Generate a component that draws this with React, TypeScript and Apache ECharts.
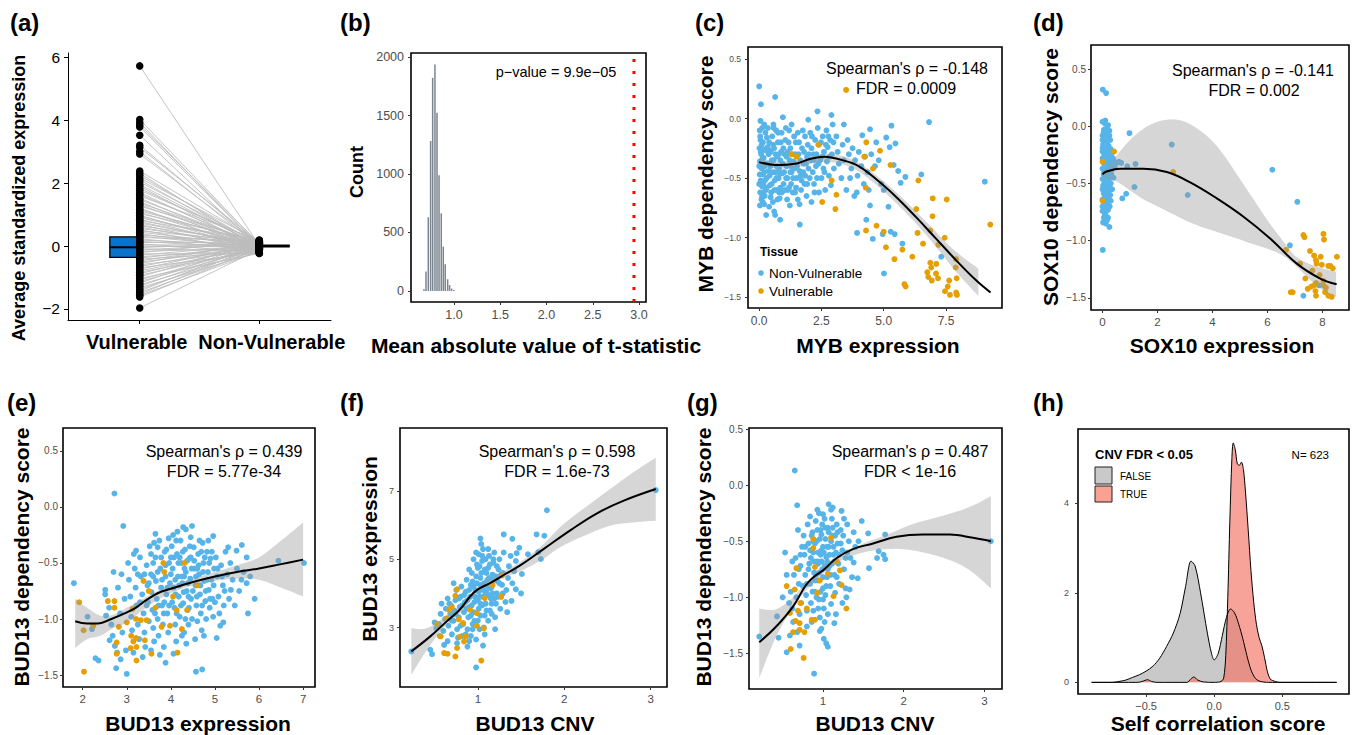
import React, { useEffect, useRef } from "react";
import * as echarts from "echarts";

const FONT = '"Liberation Sans", Arial, Helvetica, sans-serif';
const BLUE = "#56B4E9";
const ORANGE = "#E69F00";
const TICK_GRAY = "#4d4d4d";

// ---------- (a) ----------
const groupCategories = ["Vulnerable", "Non-Vulnerable"];
const vulnerable = [
  5.72, 4.02, 3.92, 3.84, 3.78, 3.52, 3.2, 3.13, 3.0, 2.92,
  2.38, 2.31, 2.24, 2.16, 2.1, 2.03, 1.95, 1.9, 1.83, 1.77,
  1.7, 1.64, 1.59, 1.52, 1.47, 1.41, 1.36, 1.31, 1.27, 1.21,
  1.16, 1.12, 1.07, 1.03, 0.98, 0.94, 0.9, 0.85, 0.81, 0.77,
  0.73, 0.69, 0.64, 0.6, 0.56, 0.52, 0.48, 0.44, 0.39, 0.35,
  0.31, 0.27, 0.23, 0.19, 0.15, 0.11, 0.07, 0.03, -0.01, -0.05,
  -0.09, -0.13, -0.17, -0.21, -0.25, -0.29, -0.34, -0.38, -0.42, -0.47,
  -0.51, -0.56, -0.6, -0.65, -0.69, -0.74, -0.79, -0.83, -0.88, -0.93,
  -0.98, -1.03, -1.08, -1.13, -1.18, -1.23, -1.28, -1.33, -1.38, -1.43,
  -1.48, -1.53, -1.57, -1.62, -1.97,
];
const nonVulnerable = [
  0.02, 0.05, -0.03, 0.08, 0.01, -0.06, 0.04, 0.11, -0.02, 0.07,
  0.13, -0.08, 0.03, 0.16, -0.04, 0.09, 0.0, -0.12, 0.06, 0.14,
  -0.07, 0.02, 0.18, -0.1, 0.05, -0.15, 0.1, -0.01, 0.12, -0.19,
  0.04, 0.08, -0.05, 0.15, -0.13, 0.01, 0.07, -0.09, 0.19, -0.02,
  0.03, -0.17, 0.11, -0.06, 0.06, -0.22, 0.13, 0.0, -0.11, 0.09,
  -0.04, 0.17, -0.14, 0.02, -0.08, 0.12, -0.2, 0.05, -0.03, 0.1,
  -0.16, 0.08, -0.07, 0.15, -0.24, 0.04, -0.1, 0.01, -0.18, 0.07,
  -0.05, 0.14, -0.12, 0.03, -0.21, 0.09, -0.02, -0.15, 0.06, -0.09,
  0.11, -0.23, 0.0, -0.06, 0.13, -0.13, 0.05, -0.19, -0.04, 0.08,
  -0.11, 0.02, -0.17, -0.07, -0.1,
];
const boxStats = [
  { q1: -0.36, med: -0.04, q3: 0.29 },
  { q1: -0.03, med: 0.0, q3: 0.03 },
];
const aYTicks = [-2, 0, 2, 4, 6];

// ---------- (b) ----------
const tstatBins = [0.676, 0.698, 0.723, 0.748, 0.77, 0.795, 0.817, 0.839, 0.863, 0.885, 0.906, 0.932, 0.953, 0.975, 1.0];
const tstatCounts = [15, 165, 630, 1282, 1823, 1937, 1524, 990, 664, 379, 228, 100, 50, 20, 8];
const observedT = 2.945;
const pValueLabel = "p\u2212value = 9.9e\u221205";
const bXTicks = [1, 1.5, 2, 2.5, 3];
const bYTicks = [0, 500, 1000, 1500, 2000];

// ---------- (c) MYB ----------
const cBlue = [
  [0.02,-0.1],[0.05,-0.18],[0.01,-0.25],[0.08,-0.3],[0.03,-0.36],[0.1,-0.42],[0.02,-0.47],[0.06,-0.52],[0.12,-0.57],[0.04,-0.62],
  [0.09,-0.68],[0.03,-0.73],[0.15,-0.2],[0.18,-0.33],[0.2,-0.45],[0.16,-0.55],[0.22,-0.65],[0.25,-0.12],[0.28,-0.27],[0.26,-0.38],
  [0.3,-0.5],[0.27,-0.6],[0.0,-0.4],[0.14,-0.7],[0.0,0.27],[0.07,0.12],[0.05,-0.02],[0.12,-0.08],[0.0,-0.55],[0.2,-0.05],
  [0.35,-0.08],[0.4,-0.2],[0.38,-0.3],[0.45,-0.4],[0.42,-0.48],[0.5,-0.55],[0.48,-0.62],[0.55,-0.7],[0.52,-0.15],[0.6,-0.25],
  [0.58,-0.35],[0.65,-0.45],[0.62,-0.52],[0.7,-0.6],[0.68,-0.1],[0.75,-0.2],[0.72,-0.32],[0.8,-0.42],[0.78,-0.5],[0.85,-0.58],
  [0.82,-0.67],[0.9,-0.12],[0.88,-0.28],[0.95,-0.38],[0.92,-0.46],[0.98,-0.55],[0.64,0.18],[0.95,0.01],[0.84,-0.85],[0.28,-0.81],
  [0.64,-0.81],[0.4,-0.74],[0.6,-0.78],[0.33,-0.38],[0.47,-0.27],[0.7,-0.4],[0.57,-0.05],[0.85,-0.35],
  [1.05,-0.18],[1.02,-0.3],[1.1,-0.4],[1.08,-0.5],[1.15,-0.6],[1.12,-0.68],[1.2,-0.1],[1.25,-0.25],[1.22,-0.35],[1.3,-0.45],
  [1.28,-0.55],[1.35,-0.62],[1.4,-0.15],[1.45,-0.3],[1.42,-0.42],[1.5,-0.5],[1.48,-0.58],[1.55,-0.68],[1.6,-0.2],[1.65,-0.35],
  [1.62,-0.44],[1.7,-0.52],[1.68,-0.6],[1.75,-0.1],[1.8,-0.28],[1.78,-0.38],[1.85,-0.48],[1.82,-0.55],[1.9,-0.65],[1.95,-0.22],
  [1.92,-0.32],[1.98,-0.42],[1.97,-0.01],[1.23,-0.73],[1.62,-0.72],[1.63,-0.89],[1.3,-0.05],[1.15,-0.28],[1.38,-0.36],[1.55,-0.12],
  [2.05,-0.12],[2.1,-0.25],[2.08,-0.35],[2.15,-0.45],[2.2,-0.55],[2.25,-0.18],[2.3,-0.3],[2.28,-0.4],[2.35,-0.08],[2.34,0.06],
  [2.4,-0.22],[2.45,-0.35],[2.5,-0.5],[2.55,-0.15],[2.6,-0.28],[2.58,-0.42],[2.65,-0.6],[2.7,-0.1],[2.75,-0.24],[2.72,-0.36],
  [2.8,-0.48],[2.85,-0.18],[2.9,0.03],[2.95,-0.05],[2.92,-0.3],[3.0,-0.42],[2.88,-0.56],[2.1,-0.7],[2.4,-0.62],[2.2,-0.35],
  [3.1,-0.15],[3.15,-0.28],[3.2,-0.38],[3.3,-0.5],[3.35,-0.22],[3.4,-0.35],[3.5,-0.6],[3.55,-0.18],[3.6,-0.3],[3.7,-0.42],
  [3.75,-0.25],[3.85,-0.35],[3.92,-0.62],[3.82,-0.65],[3.95,-0.48],[4.0,-0.28],[4.1,-0.4],[4.14,-0.14],[4.2,-0.55],[4.25,-0.32],
  [4.3,-0.85],[4.35,-0.45],[4.45,-0.09],[4.45,-0.73],[4.5,-0.3],[4.4,-0.6],[3.93,-0.96],[3.4,-0.05],[3.65,-0.5],
  [4.56,-1.01],[4.65,-0.4],[4.8,-0.35],[4.9,-0.55],[4.96,-0.97],[5.01,-1.3],[5.1,-0.16],[5.19,-0.74],[5.24,-0.24],[5.28,-0.95],
  [5.31,-0.06],[5.4,-0.39],[5.44,-0.97],[5.47,-0.21],[5.58,-0.44],[5.68,-0.54],[5.75,-1.05],[5.87,-0.49],[6.51,-0.47],[6.82,-0.03],
  [7.31,-1.16],[9.06,-0.53],[5.0,-0.6],[4.7,-0.2],
  [0.04,-0.15],[0.1,-0.22],[0.06,-0.28],[0.13,-0.34],[0.07,-0.4],[0.15,-0.47],[0.09,-0.54],[0.17,-0.62],[0.11,-0.66],[0.2,-0.72],
  [0.23,-0.52],[0.19,-0.26],[0.22,-0.4],[0.31,-0.16],[0.34,-0.24],[0.37,-0.44],[0.43,-0.56],[0.46,-0.66],[0.5,-0.35],[0.53,-0.45],
  [0.56,-0.22],[0.61,-0.6],[0.66,-0.3],[0.69,-0.5],[0.73,-0.68],[0.76,-0.12],[0.79,-0.3],[0.83,-0.46],[0.87,-0.2],[0.91,-0.62],
  [0.97,-0.25],[1.0,-0.45],[1.04,-0.6],[1.07,-0.08],[1.13,-0.5],[1.18,-0.2],[1.2,-0.58],[1.27,-0.4],[1.33,-0.3],[1.36,-0.5],
  [1.44,-0.62],[1.47,-0.2],[1.52,-0.4],[1.58,-0.3],[1.66,-0.48],[1.72,-0.25],[1.77,-0.45],[1.84,-0.15],[1.88,-0.38],[1.93,-0.55],
  [2.0,-0.3],[2.03,-0.5],[2.12,-0.15],[2.18,-0.3],[2.22,-0.62],[2.32,-0.5],[2.38,-0.38],[2.48,-0.2],[2.53,-0.32],[2.62,-0.45],
  [2.68,-0.22],[2.78,-0.15],[2.82,-0.32],[2.98,-0.2],[0.3,-0.58],[0.45,-0.28],[0.58,-0.08],[0.8,-0.62],[1.1,-0.32],[1.25,-0.45],
];
const cOrange = [
  [3.49,0.24],[2.37,-0.22],[1.3,-0.3],[1.5,-0.32],[4.3,-0.2],[4.85,-0.27],[4.22,-0.32],[5.27,-0.39],[4.57,-0.42],[2.91,-0.52],
  [3.1,-0.64],[4.28,-0.58],[2.53,-0.7],[3.06,-0.76],[6.39,-0.52],[6.97,-0.67],[7.53,-0.68],[6.31,-0.76],[6.96,-0.82],[4.71,-0.9],
  [4.29,-0.94],[5.0,-0.95],[6.36,-0.96],[6.87,-0.94],[7.45,-1.0],[5.09,-1.08],[5.75,-1.1],[7.19,-1.06],[6.58,-1.05],[5.43,-1.18],
  [6.15,-1.16],[6.87,-1.21],[7.11,-1.22],[6.91,-1.25],[7.91,-1.18],[7.89,-1.25],[6.75,-1.29],[6.79,-1.33],[7.18,-1.34],[6.93,-1.36],
  [7.63,-1.36],[7.93,-1.34],[5.88,-1.41],[5.83,-1.39],[7.57,-1.41],[7.46,-1.45],[7.66,-1.48],[7.91,-1.46],[7.94,-1.48],[9.28,-0.89],
  [7.1,-1.3],
];
const cFit = [[0,-0.366],[0.67,-0.39],[1.44,-0.38],[2.03,-0.34],[2.62,-0.32],[3.17,-0.34],[3.9,-0.39],[4.7,-0.51],[5.51,-0.66],[6.31,-0.83],[7.11,-1.01],[7.91,-1.19],[8.72,-1.36],[9.29,-1.46]];
const cBand = [[0,-0.4,-0.33],[0.7,-0.42,-0.36],[1.5,-0.41,-0.35],[2.3,-0.37,-0.31],[3.0,-0.37,-0.3],[3.8,-0.42,-0.35],[4.6,-0.54,-0.46],[5.4,-0.69,-0.6],[6.2,-0.86,-0.76],[7.0,-1.05,-0.93],[7.8,-1.26,-1.1],[8.8,-1.49,-1.26]];

// ---------- (d) SOX10 ----------
const dBlue = [
  [0.01,0.32],[0.13,0.29],[0.01,-1.08],[0.25,-0.88],[0.98,-0.06],[0.9,-0.35],[1.2,-0.33],[1.16,-0.53],[0.86,-0.59],[0.72,-0.63],
  [2.52,-0.16],[3.1,-0.6],[6.18,-0.38],[7.09,-0.66],[6.82,-1.04],[7.88,-1.39],[7.31,-1.48],
  [0.36,-0.32],[0.44,-0.31],[0.52,-0.32],[0.6,-0.31],[0.68,-0.32],[0.4,-0.45],[0.35,-0.55],
  [0.0,0.04],[0.1,0.02],[0.2,0.01],[0.05,-0.03],[0.15,-0.05],[0.25,-0.04],[0.0,-0.08],[0.1,-0.1],[0.2,-0.09],[0.28,-0.12],
  [0.05,-0.14],[0.15,-0.15],[0.22,-0.17],[0.0,-0.19],[0.1,-0.2],[0.3,-0.2],[0.05,-0.24],[0.18,-0.23],[0.25,-0.26],[0.0,-0.28],
  [0.12,-0.29],[0.3,-0.3],[0.06,-0.33],[0.2,-0.34],[0.0,-0.37],[0.1,-0.38],[0.26,-0.37],[0.04,-0.42],[0.16,-0.41],[0.32,-0.42],
  [0.0,-0.46],[0.1,-0.47],[0.22,-0.46],[0.06,-0.5],[0.18,-0.51],[0.3,-0.5],[0.0,-0.55],[0.12,-0.55],[0.24,-0.56],[0.05,-0.59],
  [0.17,-0.6],[0.0,-0.64],[0.1,-0.65],[0.22,-0.63],[0.04,-0.69],[0.14,-0.7],[0.0,-0.74],[0.1,-0.76],[0.2,-0.73],[0.05,-0.8],
  [0.15,-0.79],[0.02,-0.84],[0.12,-0.85],
  [0.08,-0.06],[0.18,-0.12],[0.02,-0.16],[0.25,-0.08],[0.12,-0.25],[0.08,-0.36],[0.22,-0.3],[0.14,-0.44],[0.02,-0.52],[0.26,-0.53],
  [0.08,-0.6],[0.18,-0.67],[0.28,-0.6],[0.06,-0.72],[0.32,-0.25],[0.34,-0.38],[0.38,-0.28],[0.45,-0.36],[0.3,-0.65],[0.1,0.05],
  [0.03,-0.31],[0.2,-0.38],[0.26,-0.7],[0.16,-0.82],[0.08,-0.44],[0.24,-0.2],[0.14,-0.34],[0.04,-0.05],[0.3,-0.45],[0.2,-0.58],
  [0.0,-0.12],[0.1,-0.15],[0.2,-0.2],[0.0,-0.22],[0.06,-0.4],[0.14,-0.48],[0.24,-0.43],[0.04,-0.57],[0.12,-0.62],[0.2,-0.66],
  [0.0,-0.7],[0.08,-0.78],[0.2,-0.8],[0.18,-0.02],[0.28,-0.35],[0.12,-0.72],
];
const dOrange = [
  [0.42,-0.22],[2.57,-0.4],[0.0,-0.65],[0.0,-0.31],[7.31,-0.95],[7.35,-0.97],[8.04,-0.94],[8.06,-0.99],[6.68,-1.08],[7.55,-1.09],
  [7.7,-1.13],[7.94,-1.14],[8.29,-1.22],[8.53,-1.14],[7.77,-1.17],[7.79,-1.2],[7.98,-1.21],[7.19,-1.2],[8.22,-1.22],[8.38,-1.24],
  [7.64,-1.26],[7.38,-1.33],[8.04,-1.35],[7.77,-1.37],[7.7,-1.39],[8.04,-1.39],[8.13,-1.41],[7.47,-1.42],[7.75,-1.44],[6.92,-1.45],
  [6.85,-1.45],[8.1,-1.45],[7.77,-1.48],[8.22,-1.48],[8.34,-1.49],[7.6,-1.4],[7.9,-1.3],
];
const dFit = [[0,-0.42],[0.1,-0.4],[0.64,-0.37],[1.49,-0.37],[2.34,-0.4],[3.19,-0.49],[4.16,-0.63],[5.13,-0.79],[6.1,-0.98],[7.07,-1.2],[7.92,-1.33],[8.52,-1.38]];
const dBand = [[0,-0.45,-0.39],[0.25,-0.46,-0.33],[0.5,-0.48,-0.26],[1.0,-0.56,-0.12],[1.5,-0.64,-0.02],[2.0,-0.7,0.04],[2.5,-0.76,0.06],[3.0,-0.82,0.04],[3.5,-0.87,-0.03],[4.0,-0.91,-0.13],[4.5,-0.95,-0.28],[5.0,-0.99,-0.46],[5.5,-1.03,-0.64],[6.0,-1.07,-0.82],[6.5,-1.12,-0.98],[7.0,-1.21,-1.13],[7.5,-1.33,-1.2],[8.0,-1.43,-1.24],[8.5,-1.49,-1.27]];

// ---------- (e) BUD13 expression vs dependency ----------
const eBlue = [
  [2.72,0.12],[2.92,-0.17],[1.8,-0.68],[4.48,-0.17],[4.34,-0.2],[3.65,-0.24],[4.45,-0.27],[4.96,-0.26],[5.61,-0.34],[5.49,-0.39],
  [5.72,-0.45],[6.44,-0.48],[7.02,-0.5],[5.72,-0.68],[5.6,-0.65],[2.21,-1.09],[2.11,-0.98],[2.29,-1.35],[2.36,-1.37],[2.76,-1.44],
  [3.0,-1.49],[4.57,-1.47],[4.71,-1.45],[5.04,-1.17],[3.88,-1.39],[4.06,-1.31],[2.7,-0.58],[3.03,-0.5],[3.21,-0.39],[2.51,-0.74],
  [2.51,-0.78],[2.53,-0.97],[2.61,-1.19],[2.86,-1.36],[2.73,-1.24],[5.19,-1.03],[5.36,-0.74],
  [2.6,-0.9],[2.65,-1.05],[2.8,-0.72],[2.85,-0.95],[2.9,-1.12],[2.95,-0.82],[2.98,-1.28],[2.78,-1.3],[2.88,-0.6],[2.68,-1.15],
  [3.05,-0.65],[3.08,-0.8],[3.1,-0.98],[3.12,-1.1],[3.15,-1.3],[3.18,-0.55],[3.2,-0.72],[3.22,-0.88],[3.25,-1.05],[3.28,-1.18],
  [3.3,-0.45],[3.32,-0.62],[3.35,-0.78],[3.38,-0.95],[3.4,-1.12],[3.42,-1.25],[3.45,-0.52],[3.47,-0.7],[3.48,-0.85],[3.5,-1.02],
  [3.16,-0.42],[3.36,-1.34],
  [3.52,-0.35],[3.55,-0.6],[3.56,-0.76],[3.58,-0.92],[3.6,-1.08],[3.62,-1.2],[3.65,-0.45],[3.66,-0.66],[3.68,-0.82],[3.7,-1.0],
  [3.72,-1.15],[3.74,-0.3],[3.76,-0.55],[3.78,-0.72],[3.8,-0.88],[3.82,-1.05],[3.84,-1.25],[3.86,-0.4],[3.88,-0.62],[3.9,-0.78],
  [3.92,-0.95],[3.94,-1.12],[3.96,-0.5],[3.98,-0.68],[3.6,-0.5],[3.7,-0.36],[3.85,-0.85],[3.75,-1.32],[3.95,-0.28],[3.55,-1.28],
  [4.02,-0.35],[4.04,-0.55],[4.06,-0.72],[4.08,-0.9],[4.1,-1.05],[4.12,-1.2],[4.14,-0.42],[4.16,-0.62],[4.18,-0.8],[4.2,-0.98],
  [4.22,-0.3],[4.24,-0.5],[4.26,-0.68],[4.28,-0.86],[4.3,-1.12],[4.32,-0.38],[4.34,-0.58],[4.36,-0.75],[4.38,-0.92],[4.4,-1.05],
  [4.42,-0.46],[4.44,-0.64],[4.46,-0.82],[4.48,-1.0],[4.05,-0.25],[4.15,-0.22],[4.25,-1.15],[4.35,-1.22],[4.1,-0.65],[4.2,-0.45],
  [4.3,-0.62],[4.4,-0.8],[4.28,-0.18],
  [4.52,-0.36],[4.54,-0.55],[4.56,-0.7],[4.58,-0.88],[4.6,-1.02],[4.62,-0.42],[4.64,-0.6],[4.66,-0.78],[4.68,-0.95],[4.7,-1.1],
  [4.72,-0.32],[4.74,-0.5],[4.76,-0.66],[4.78,-0.84],[4.8,-1.0],[4.82,-0.4],[4.84,-0.58],[4.86,-0.74],[4.88,-0.9],[4.9,-0.46],
  [4.92,-0.65],[4.94,-0.82],[4.96,-0.98],[4.98,-0.55],[4.65,-0.3],[4.85,-0.3],[4.75,-1.15],[4.55,-1.18],
  [5.02,-0.45],[5.05,-0.62],[5.08,-0.8],[5.1,-0.95],[5.14,-0.52],[5.18,-0.7],[5.2,-0.88],[5.24,-0.4],[5.28,-0.6],[5.32,-0.82],
  [5.35,-0.5],[5.4,-0.65],[5.45,-0.88],[5.5,-0.55],[5.12,-1.06],[5.3,-0.36],
  [5.55,-0.75],[5.65,-0.58],[5.8,-0.62],[5.9,-0.82],[5.75,-0.95],
  [3.6,-0.62],[3.64,-0.95],[3.7,-0.58],[3.72,-0.88],[3.78,-0.45],[3.8,-0.65],[3.84,-0.95],[3.88,-0.52],[3.92,-0.72],[3.96,-0.88],
  [4.0,-0.6],[4.03,-0.85],[4.07,-0.45],[4.11,-0.78],[4.13,-0.95],[4.17,-0.5],[4.19,-0.7],[4.23,-0.88],[4.27,-0.4],[4.29,-0.76],
  [4.31,-0.55],[4.33,-1.0],[4.37,-0.48],[4.39,-0.68],[4.41,-0.9],[4.43,-0.35],[4.47,-0.55],[4.5,-0.75],[4.53,-0.48],[4.57,-0.62],
  [4.59,-0.8],[4.63,-0.52],[4.67,-0.7],[4.69,-0.4],[4.71,-0.88],[4.73,-0.58],[4.77,-0.45],[4.79,-0.75],[4.83,-0.65],[4.87,-0.5],
  [4.89,-0.82],[4.93,-0.4],[4.97,-0.7],[5.0,-0.85],[5.06,-0.55],[5.16,-0.62],[5.22,-0.75],[3.4,-0.6],[3.45,-0.88],[3.5,-0.68],
  [3.3,-0.85],[3.25,-0.6],[3.55,-0.42],[3.62,-0.32],[3.9,-0.38],[4.0,-0.45],[4.12,-0.3],[4.6,-0.55],[4.45,-0.45],[4.25,-0.62],
];
const eOrange = [
  [1.92,-0.85],[2.02,-1.1],[2.24,-1.06],[2.03,-1.47],[2.57,-0.84],[2.72,-0.84],[2.72,-0.9],[2.82,-1.07],[2.77,-1.21],[2.77,-1.31],
  [3.0,-1.03],[3.13,-0.91],[3.1,-1.15],[3.15,-1.2],[3.21,-1.17],[3.22,-1.25],[3.09,-1.26],[3.22,-1.37],[3.41,-1.19],[3.56,-1.31],
  [3.38,-0.66],[3.83,-0.5],[3.85,-0.58],[4.31,-0.5],[4.13,-0.92],[4.37,-0.92],[4.25,-1.09],[4.15,-1.3],[3.98,-1.06],[3.21,-1.0],
  [3.32,-1.01],[3.45,-1.01],[3.79,-1.07],[3.65,-0.9],[4.6,-0.7],[3.5,-0.75],[4.05,-0.8],
];
const eFit = [[1.83,-1.02],[2.1,-1.04],[2.35,-1.04],[2.65,-1.0],[2.95,-0.95],[3.2,-0.9],[3.45,-0.83],[3.7,-0.77],[4.0,-0.73],[4.5,-0.67],[5.0,-0.62],[5.5,-0.58],[6.0,-0.55],[6.5,-0.51],[7.0,-0.47]];
const eBand = [[1.83,-1.26,-0.82],[2.1,-1.18,-0.9],[2.4,-1.15,-0.97],[2.7,-1.08,-0.96],[3.0,-1.03,-0.9],[3.5,-0.88,-0.79],[4.0,-0.77,-0.7],[4.5,-0.7,-0.64],[5.0,-0.66,-0.58],[5.5,-0.64,-0.52],[6.0,-0.65,-0.45],[6.5,-0.72,-0.3],[7.0,-0.8,-0.14]];

// ---------- (f) BUD13 CNV vs expression ----------
const fBlue = [
  [0.23,2.3],[3.06,7.03],[1.8,6.44],[1.3,5.73],[1.4,5.6],[1.68,5.73],[1.77,5.69],[1.03,5.61],[1.48,5.34],[1.58,5.15],
  [1.7,5.21],[1.73,5.01],[1.51,4.57],[1.44,4.12],[1.5,4.0],[1.39,3.78],[0.98,1.83],[1.06,2.47],[0.45,2.35],[0.47,2.22],
  [0.88,2.44],[0.52,2.98],[0.61,2.49],[0.76,2.54],
  [0.55,3.1],[0.57,3.4],[0.58,3.7],[0.6,2.9],[0.62,3.25],[0.63,3.55],[0.65,3.85],[0.66,3.05],[0.68,3.4],[0.69,3.65],
  [0.7,2.8],[0.56,2.75],
  [0.72,3.2],[0.73,3.5],[0.74,3.8],[0.75,4.1],[0.76,2.95],[0.78,3.3],[0.79,3.6],[0.8,3.9],[0.81,4.2],[0.82,2.75],
  [0.83,3.1],[0.84,3.45],[0.85,3.75],[0.72,4.3],[0.77,2.7],
  [0.86,4.05],[0.87,4.4],[0.88,2.95],[0.89,3.3],[0.9,3.6],[0.91,3.9],[0.92,4.25],[0.93,4.6],[0.94,3.1],[0.95,3.45],
  [0.96,3.75],[0.97,4.1],[0.98,4.5],[0.99,4.85],[0.86,2.8],[0.9,4.7],[0.95,5.0],[0.92,2.75],
  [1.0,3.2],[1.01,3.55],[1.02,3.9],[1.03,4.25],[1.04,4.6],[1.05,4.95],[1.06,5.3],[1.07,3.0],[1.08,3.35],[1.09,3.7],
  [1.1,4.05],[1.11,4.4],[1.12,4.75],[1.13,5.1],[1.14,3.5],[1.15,3.85],[1.01,5.15],[1.04,5.45],[1.08,2.8],[1.12,3.2],
  [1.06,4.1],[1.1,4.6],[1.03,3.7],
  [1.16,4.2],[1.17,4.55],[1.18,4.9],[1.19,5.2],[1.2,3.3],[1.21,3.7],[1.22,4.0],[1.23,4.35],[1.24,4.7],[1.25,5.0],
  [1.26,3.55],[1.27,3.9],[1.28,4.25],[1.29,4.6],[1.3,5.2],[1.2,2.95],
  [1.32,3.75],[1.33,4.1],[1.35,4.45],[1.36,4.8],[1.38,5.1],[1.4,4.3],[1.42,4.65],[1.44,4.95],[1.34,3.45],[1.45,5.18],
  [0.9,2.6],[0.98,2.65],[0.65,2.6],[0.5,3.15],[0.94,4.35],[1.0,4.75],[0.87,3.55],[0.8,3.05],[1.16,3.4],[1.02,2.95],
  [0.88,3.8],[0.9,4.1],[0.93,3.65],[0.95,4.2],[0.97,3.9],[0.99,4.3],[1.0,3.8],[1.01,4.05],[1.03,4.45],[1.05,3.65],
  [1.06,3.9],[1.07,4.3],[1.08,4.7],[1.09,4.0],[1.1,3.5],[1.11,4.2],[1.12,3.95],[1.13,4.45],[1.14,4.85],[1.15,4.15],
  [1.16,3.7],[1.17,4.0],[1.18,4.4],[1.19,3.85],[1.21,4.5],[1.22,4.8],[1.23,3.9],[1.25,4.3],[1.27,4.55],[1.29,4.0],
  [0.82,3.65],[0.84,3.95],[0.78,3.85],[0.74,3.4],[0.7,3.2],[0.67,3.7],[0.92,3.35],[0.96,3.2],[1.05,5.1],[1.09,5.0],
  [1.02,4.8],[0.98,5.2],[1.12,5.3],[1.18,5.0],[1.03,3.35],[0.94,2.95],
];
const fOrange = [
  [1.04,2.03],[0.74,2.15],[0.61,2.25],[0.65,2.23],[0.76,2.4],[0.84,2.59],[0.86,2.74],[0.79,2.73],[0.57,2.74],[0.53,3.1],
  [0.64,3.27],[0.67,3.52],[0.76,4.12],[0.74,3.93],[0.78,3.24],[1.07,2.98],[0.99,3.42],[1.08,3.86],[1.27,3.91],[1.17,4.25],
  [1.28,4.53],[0.99,3.05],[0.83,3.13],[0.7,3.6],[0.91,3.52],
];
const fFit = [[0.23,2.3],[0.45,2.74],[0.64,3.18],[0.79,3.52],[0.91,3.91],[1.0,4.12],[1.14,4.3],[1.3,4.54],[1.49,4.82],[1.76,5.3],[2.07,5.85],[2.38,6.35],[2.69,6.72],[3.06,7.06]];
const fBand = [[0.23,1.61,2.98],[0.4,2.3,2.97],[0.6,2.98,3.27],[0.8,3.43,3.63],[1.0,4.04,4.2],[1.25,4.4,4.58],[1.5,4.66,4.94],[1.75,5.0,5.42],[2.0,5.42,6.05],[2.5,5.96,7.0],[2.8,6.08,7.55],[3.06,6.13,7.98]];

// ---------- (g) BUD13 CNV vs dependency ----------
const gBlue = [
  [0.65,0.13],[0.68,-0.18],[0.69,-0.4],[0.21,-1.35],[0.43,-1.17],[0.45,-1.36],[0.55,-1.49],[0.89,-1.68],[3.08,-0.5],[1.77,-0.44],
  [1.69,-0.59],[1.75,-0.62],[1.77,-0.66],[1.67,-0.65],[1.57,-0.74],[1.56,-0.43],[1.48,-0.32],[1.44,-0.5],[1.38,-0.69],[1.33,-0.93],
  [1.29,-1.0],[1.43,-0.83],[1.07,-0.17],[1.12,-0.2],[0.95,-0.25],[1.23,-0.23],[1.04,-1.41],[1.06,-1.44],[1.01,-1.37],[1.14,-1.23],
  [0.98,-1.28],[0.71,-1.43],[0.68,-1.31],[0.59,-1.34],
  [0.6,-0.95],[0.62,-1.1],[0.63,-1.22],[0.64,-0.8],[0.66,-0.65],[0.67,-1.0],[0.7,-0.88],[0.71,-1.15],[0.72,-0.72],[0.74,-0.55],
  [0.73,-1.05],[0.58,-1.05],[0.62,-0.68],
  [0.76,-0.45],[0.77,-0.62],[0.78,-0.8],[0.79,-0.98],[0.8,-1.12],[0.81,-0.35],[0.82,-0.52],[0.83,-0.7],[0.84,-0.88],[0.85,-1.05],
  [0.86,-1.22],[0.87,-0.42],[0.88,-0.6],[0.89,-0.78],[0.9,-0.95],[0.8,-1.26],[0.84,-0.28],
  [0.91,-0.32],[0.92,-0.5],[0.93,-0.68],[0.94,-0.85],[0.95,-1.02],[0.96,-1.18],[0.97,-0.4],[0.98,-0.58],[0.99,-0.75],[1.0,-0.92],
  [1.01,-1.1],[1.02,-0.3],[1.03,-0.48],[1.04,-0.64],[1.05,-0.82],[0.93,-0.22],[1.0,-0.26],[0.96,-1.3],[1.02,-1.22],[0.97,-0.62],
  [1.03,-0.98],
  [1.06,-0.38],[1.07,-0.55],[1.08,-0.72],[1.09,-0.9],[1.1,-1.06],[1.11,-0.3],[1.12,-0.45],[1.13,-0.62],[1.14,-0.8],[1.15,-0.96],
  [1.16,-1.15],[1.17,-0.35],[1.18,-0.52],[1.19,-0.7],[1.2,-0.88],[1.1,-0.22],
  [1.22,-0.4],[1.24,-0.58],[1.26,-0.75],[1.28,-0.92],[1.3,-0.35],[1.32,-0.5],[1.34,-0.65],[1.36,-0.82],[1.26,-0.3],[1.38,-0.42],
  [1.3,-0.6],[1.24,-1.05],[1.4,-0.55],
  [0.53,-0.6],[0.55,-0.8],[0.5,-1.0],[0.88,-0.5],[0.94,-0.7],[1.0,-0.55],[0.9,-0.85],[1.05,-0.68],[0.85,-0.65],[0.98,-0.44],
  [0.82,-0.75],[0.84,-0.58],[0.86,-0.45],[0.87,-0.95],[0.89,-0.68],[0.9,-0.52],[0.91,-0.8],[0.92,-1.0],[0.93,-0.4],[0.94,-0.6],
  [0.95,-0.78],[0.96,-0.48],[0.97,-0.95],[0.98,-0.68],[0.99,-0.35],[1.0,-0.82],[1.01,-0.6],[1.02,-0.72],[1.03,-0.38],[1.04,-0.9],
  [1.05,-0.55],[1.06,-0.75],[1.07,-0.42],[1.08,-0.62],[1.09,-0.8],[1.1,-0.5],[1.11,-0.7],[1.12,-0.38],[1.13,-0.55],[1.14,-0.68],
  [1.15,-0.45],[1.16,-0.6],[1.17,-0.82],[1.18,-0.42],[1.2,-0.62],[1.22,-0.52],[1.25,-0.45],[1.28,-0.65],[0.78,-0.55],[0.75,-0.9],
  [0.72,-0.62],[0.7,-0.75],[0.8,-0.88],[0.88,-1.12],[0.94,-1.1],[1.0,-1.02],[1.06,-1.15],
];
const gOrange = [
  [0.59,-1.14],[0.55,-0.9],[0.65,-0.93],[0.67,-0.74],[0.9,-0.73],[0.72,-1.05],[0.8,-1.1],[0.69,-1.12],[0.66,-1.21],[0.71,-1.23],
  [0.77,-1.31],[0.63,-1.31],[0.71,-1.29],[0.86,-1.2],[0.9,-1.2],[0.76,-1.54],[0.6,-1.46],[0.88,-0.56],[0.88,-0.48],[1.1,-0.47],
  [1.17,-0.68],[1.23,-0.89],[1.13,-0.99],[1.29,-1.1],[1.06,-0.79],[0.96,-0.85],[0.93,-0.96],[1.21,-0.76],
];
const gFit = [[0.21,-1.4],[0.42,-1.26],[0.63,-1.08],[0.79,-0.89],[0.9,-0.81],[1.0,-0.76],[1.17,-0.65],[1.37,-0.57],[1.62,-0.52],[1.91,-0.46],[2.24,-0.44],[2.57,-0.44],[2.86,-0.47],[3.08,-0.5]];
const gBand = [[0.21,-1.72,-1.1],[0.4,-1.38,-1.11],[0.6,-1.12,-1.02],[0.8,-0.93,-0.86],[1.0,-0.79,-0.73],[1.2,-0.68,-0.62],[1.5,-0.6,-0.52],[1.8,-0.57,-0.44],[2.1,-0.58,-0.35],[2.5,-0.65,-0.27],[2.8,-0.75,-0.2],[3.08,-0.92,-0.1]];

// ---------- (h) density ----------
const falseDensity = [
  [-0.9,0],[-0.75,0.0],[-0.7,0.02],[-0.65,0.05],[-0.6,0.11],[-0.55,0.17],[-0.5,0.25],[-0.45,0.36],[-0.4,0.54],[-0.35,0.8],
  [-0.3,1.1],[-0.25,1.54],[-0.21,2.14],[-0.17,2.71],[-0.14,2.6],[-0.1,2.0],[-0.05,1.1],[-0.02,0.65],[0.0,0.5],[0.03,0.65],
  [0.06,1.05],[0.09,1.45],[0.12,1.64],[0.15,1.55],[0.18,1.3],[0.21,0.98],[0.24,0.6],[0.27,0.28],[0.3,0.1],[0.33,0.03],
  [0.4,0.0],[0.9,0],
];
const trueDensity = [
  [-0.9,0],[-0.56,0.0],[-0.52,0.03],[-0.49,0.06],[-0.46,0.02],[-0.42,0.0],[-0.2,0.0],[-0.17,0.08],[-0.15,0.12],[-0.12,0.05],
  [-0.08,0.01],[0.0,0.0],[0.05,0.02],[0.07,0.1],[0.085,0.6],[0.1,1.9],[0.115,3.6],[0.13,5.0],[0.14,5.35],[0.155,5.2],
  [0.17,4.88],[0.185,4.85],[0.2,4.92],[0.215,4.75],[0.23,4.25],[0.25,3.4],[0.27,2.5],[0.29,1.8],[0.31,1.3],[0.33,1.0],
  [0.35,0.82],[0.37,0.55],[0.39,0.25],[0.41,0.08],[0.43,0.04],[0.45,0.02],[0.48,0.0],[0.9,0],
];
const densityGroups = ["FALSE", "TRUE"];
const sampleSize = 623;

// ---------- helpers ----------
const fmt = (d: number) => (v: number) => {
  const s = Math.abs(v).toFixed(d);
  return v < -1e-9 ? "\u2212" + s : s;
};

function catmull(p: number[][], seg = 6) {
  const out: number[][] = [];
  for (let i = 0; i < p.length - 1; i++) {
    const p0 = p[i - 1] || p[i];
    const p1 = p[i];
    const p2 = p[i + 1];
    const p3 = p[i + 2] || p[i + 1];
    for (let t = 0; t < seg; t++) {
      const s = t / seg;
      const s2 = s * s;
      const s3 = s2 * s;
      const f = (k: number) =>
        0.5 * (2 * p1[k] + (-p0[k] + p2[k]) * s + (2 * p0[k] - 5 * p1[k] + 4 * p2[k] - p3[k]) * s2 + (-p0[k] + 3 * p1[k] - 3 * p2[k] + p3[k]) * s3);
      out.push([f(0), f(1)]);
    }
  }
  out.push(p[p.length - 1]);
  return out;
}

const grids = [
  { left: 68, top: 53, width: 263, height: 267 },
  { left: 411, top: 53, width: 235, height: 249 },
  { left: 748, top: 47, width: 254, height: 261 },
  { left: 1091, top: 45, width: 258, height: 265 },
  { left: 63, top: 428, width: 252, height: 259 },
  { left: 400, top: 428, width: 267, height: 259 },
  { left: 749, top: 428, width: 253, height: 261 },
  { left: 1078, top: 429, width: 271, height: 265 },
];

function axis(gridIndex: number, min: number, max: number, ticks: number[], formatter: any, fontSize: number, margin: number, extra: any = {}) {
  return {
    type: "value",
    gridIndex,
    min,
    max,
    axisLine: { show: false, onZero: false },
    splitLine: { show: false },
    axisTick: { show: true, customValues: ticks, length: 3, lineStyle: { color: "#333", width: 1 } },
    axisLabel: { show: true, customValues: ticks, formatter, fontSize, margin, color: TICK_GRAY, fontFamily: FONT },
    ...extra,
  };
}

const scatter = (i: number, data: number[][], color: string, size = 5.9) => ({
  type: "scatter",
  xAxisIndex: i,
  yAxisIndex: i,
  data,
  symbolSize: size,
  itemStyle: { color, opacity: 1 },
  silent: true,
});

const fitLine = (i: number, data: number[][]) => ({
  type: "line",
  xAxisIndex: i,
  yAxisIndex: i,
  data,
  smooth: 0.4,
  symbol: "none",
  lineStyle: { color: "#000", width: 2 },
  silent: true,
  z: 4,
});

const ribbon = (i: number, band: number[][]) => ({
  type: "custom",
  xAxisIndex: i,
  yAxisIndex: i,
  data: [[band[0][0], band[0][1]]],
  silent: true,
  z: 3,
  renderItem: (_p: any, api: any) => {
    const up = band.map((b) => api.coord([b[0], b[2]]));
    const lo = band.map((b) => api.coord([b[0], b[1]]));
    const pts = [...catmull(up), ...catmull(lo).reverse()];
    return { type: "polygon", shape: { points: pts }, style: { fill: "rgba(153,153,153,0.4)" } };
  },
});

const BOX_W = 0.25;
const boxSide = [-1, 1];

function buildOption() {
  const boldTitle = (text: string, x: number, y: number, size = 21, rot = 0) => ({
    type: "text",
    x,
    y,
    rotation: rot,
    style: {
      text,
      fill: "#000",
      font: `bold ${size}px ${FONT}`,
      textAlign: "center",
      textVerticalAlign: "middle",
      align: "center",
      verticalAlign: "middle",
    },
    silent: true,
  });
  const plain = (text: string, x: number, y: number, size: number, align = "center", weight = "normal") => ({
    type: "text",
    x,
    y,
    style: {
      text,
      fill: "#000",
      font: `${weight} ${size}px ${FONT}`,
      textAlign: align,
      textVerticalAlign: "middle",
      align,
      verticalAlign: "middle",
    },
    silent: true,
  });
  const R = Math.PI / 2;

  const graphics: any[] = [
    // panel letters
    plain("(a)", 10, 22, 24, "left", "bold"),
    plain("(b)", 340, 22, 24, "left", "bold"),
    plain("(c)", 695, 22, 24, "left", "bold"),
    plain("(d)", 1033, 22, 24, "left", "bold"),
    plain("(e)", 7, 402, 24, "left", "bold"),
    plain("(f)", 340, 402, 24, "left", "bold"),
    plain("(g)", 687, 402, 24, "left", "bold"),
    plain("(h)", 1033, 402, 24, "left", "bold"),
    // axis titles
    boldTitle("Average standardized expression", 19, 198, 18, R),
    boldTitle("Count", 357, 172, 18, R),
    boldTitle("Mean absolute value of t-statistic", 536, 345, 21),
    boldTitle("MYB dependency score", 705, 174, 21, R),
    boldTitle("MYB expression", 878, 345, 21),
    boldTitle("SOX10 dependency score", 1050, 177, 21, R),
    boldTitle("SOX10 expression", 1222, 345, 21),
    boldTitle("BUD13 dependency score", 21, 557, 21, R),
    boldTitle("BUD13 expression", 198, 723, 21),
    boldTitle("BUD13 expression", 369, 549, 21, R),
    boldTitle("BUD13 CNV", 535, 723, 21),
    boldTitle("BUD13 dependency score", 703, 557, 21, R),
    boldTitle("BUD13 CNV", 875, 723, 21),
    boldTitle("Self correlation score", 1218, 723, 21),
    // annotations
    plain(pValueLabel, 556, 72, 14.5),
    plain("Spearman's \u03c1 = -0.148", 907, 68, 16),
    plain("FDR = 0.0009", 906, 88, 16),
    plain("Spearman's \u03c1 = -0.141", 1253, 70, 16),
    plain("FDR = 0.002", 1254, 90, 16),
    plain("Spearman's \u03c1 = 0.439", 224, 451, 16),
    plain("FDR = 5.77e-34", 224, 471, 16),
    plain("Spearman's \u03c1 = 0.598", 557, 451, 16),
    plain("FDR = 1.6e-73", 557, 471, 16),
    plain("Spearman's \u03c1 = 0.487", 910, 451, 16),
    plain("FDR < 1e-16", 910, 471, 16),
    // legend (c)
    plain("Tissue", 760, 252, 12, "left", "bold"),
    { type: "circle", shape: { cx: 761, cy: 273, r: 2.8 }, style: { fill: BLUE }, silent: true },
    { type: "circle", shape: { cx: 761, cy: 291, r: 2.8 }, style: { fill: ORANGE }, silent: true },
    plain("Non-Vulnerable", 769, 273, 13.5, "left"),
    plain("Vulnerable", 769, 291, 13.5, "left"),
    // legend (h)
    plain("CNV FDR < 0.05", 1095, 454, 13, "left", "bold"),
    { type: "rect", shape: { x: 1095, y: 467, width: 17, height: 17 }, style: { fill: "#c9c9c9", stroke: "#222", lineWidth: 1 }, silent: true },
    { type: "rect", shape: { x: 1095, y: 486, width: 17, height: 16 }, style: { fill: "#f9a293", stroke: "#222", lineWidth: 1 }, silent: true },
    plain(densityGroups[0], 1120, 476, 10, "left"),
    plain(densityGroups[1], 1120, 494, 10, "left"),
    plain("N= " + sampleSize, 1329, 455, 11.5, "right"),
  ];

  const aXFormatter = (v: number) => (v === 1 ? `{a|${groupCategories[0]}}` : `{b|${groupCategories[1]}}`);
  const xAxis = [
    axis(0, 0.4, 2.6, [1, 2], aXFormatter, 20, 12, {
      axisLine: { show: true, onZero: false, lineStyle: { color: "#000", width: 1 } },
      axisTick: { show: true, customValues: [1, 2], length: 4, lineStyle: { color: "#000" } },
      axisLabel: {
        show: true,
        customValues: [1, 2],
        formatter: aXFormatter,
        margin: 12,
        rich: {
          a: { fontSize: 20, fontWeight: "bold", color: "#000", fontFamily: FONT, padding: [0, 6, 0, 0] },
          b: { fontSize: 20, fontWeight: "bold", color: "#000", fontFamily: FONT, padding: [0, 0, 0, 25] },
        },
      },
    }),
    axis(1, 0.536, 3.075, bXTicks, fmt(1), 12.5, 6),
    axis(2, -0.45, 9.75, [0, 2.5, 5, 7.5], fmt(1), 12, 7),
    axis(3, -0.42, 8.97, [0, 2, 4, 6, 8], fmt(0), 11.5, 6),
    axis(4, 1.553, 7.27, [2, 3, 4, 5, 6, 7], fmt(0), 11.5, 6),
    axis(5, 0.099, 3.19, [1, 2, 3], fmt(0), 11.5, 6),
    axis(6, 0.083, 3.218, [1, 2, 3], fmt(0), 11.5, 6),
    axis(7, -1.0, 0.99, [-0.5, 0, 0.5], fmt(1), 11, 6),
  ];
  const depTicks = [-1.5, -1, -0.5, 0, 0.5];
  const yAxis = [
    axis(0, -2.35, 6.13, aYTicks, fmt(0), 15, 8, {
      axisLine: { show: true, onZero: false, lineStyle: { color: "#000", width: 1 } },
      axisTick: { show: true, customValues: aYTicks, length: 4, lineStyle: { color: "#000" } },
      axisLabel: { show: true, customValues: aYTicks, formatter: fmt(0), fontSize: 15.5, margin: 8, color: "#000", fontFamily: FONT },
    }),
    axis(1, -95, 2035, bYTicks, fmt(0), 12.5, 7),
    axis(2, -1.59, 0.6, depTicks, fmt(1), 8.5, 7),
    axis(3, -1.605, 0.71, depTicks, fmt(1), 10, 5),
    axis(4, -1.607, 0.705, depTicks, fmt(1), 10, 5),
    axis(5, 1.256, 8.85, [3, 5, 7], fmt(0), 9, 6),
    axis(6, -1.817, 0.509, depTicks, fmt(1), 10, 6),
    axis(7, -0.26, 5.66, [0, 2, 4], fmt(0), 9, 9),
  ];

  const series: any[] = [
    // (a)
    {
      type: "custom",
      xAxisIndex: 0,
      yAxisIndex: 0,
      silent: true,
      data: boxStats.map((b, i) => [i + 1, b.q1, b.med, b.q3, boxSide[i]]),
      renderItem: (_p: any, api: any) => {
        const cx = api.value(0);
        const side = api.value(4);
        const xa = side < 0 ? cx - BOX_W : cx;
        const xb = side < 0 ? cx : cx + BOX_W;
        const p1 = api.coord([xa, api.value(3)]);
        const p2 = api.coord([xb, api.value(1)]);
        const m1 = api.coord([xa, api.value(2)]);
        const m2 = api.coord([xb, api.value(2)]);
        return {
          type: "group",
          children: [
            { type: "rect", shape: { x: p1[0], y: p1[1], width: p2[0] - p1[0], height: p2[1] - p1[1] }, style: { fill: "#0a72c8", stroke: "#000", lineWidth: 1.3 } },
            { type: "line", shape: { x1: m1[0], y1: m1[1], x2: m2[0], y2: m2[1] }, style: { stroke: "#000", lineWidth: 2 } },
          ],
        };
      },
    },
    {
      type: "lines",
      coordinateSystem: "cartesian2d",
      xAxisIndex: 0,
      yAxisIndex: 0,
      silent: true,
      data: vulnerable.map((v, i) => ({ coords: [[1, v], [2, nonVulnerable[i]]] })),
      lineStyle: { color: "#bdbdbd", width: 0.9, opacity: 1 },
      z: 2,
    },
    { ...scatter(0, vulnerable.map((v) => [1, v]), "#000", 7.5), z: 3 },
    { ...scatter(0, nonVulnerable.map((v) => [2, v]), "#000", 7.5), z: 3 },
    // (b)
    {
      type: "bar",
      xAxisIndex: 1,
      yAxisIndex: 1,
      data: tstatBins.map((b, i) => [b, tstatCounts[i]]),
      barWidth: 1.5,
      itemStyle: { color: "#7a8590" },
      silent: true,
    },
    {
      type: "line",
      xAxisIndex: 1,
      yAxisIndex: 1,
      data: [[observedT, -95], [observedT, 2035]],
      symbol: "none",
      lineStyle: { color: "#ff0000", width: 3, type: [3, 9] },
      silent: true,
    },
    // (c)
    scatter(2, cBlue, BLUE),
    scatter(2, cOrange, ORANGE),
    ribbon(2, cBand),
    fitLine(2, cFit),
    // (d)
    scatter(3, dBlue, BLUE),
    scatter(3, dOrange, ORANGE),
    ribbon(3, dBand),
    fitLine(3, dFit),
    // (e)
    scatter(4, eBlue, BLUE),
    scatter(4, eOrange, ORANGE),
    ribbon(4, eBand),
    fitLine(4, eFit),
    // (f)
    scatter(5, fBlue, BLUE),
    scatter(5, fOrange, ORANGE),
    ribbon(5, fBand),
    fitLine(5, fFit),
    // (g)
    scatter(6, gBlue, BLUE),
    scatter(6, gOrange, ORANGE),
    ribbon(6, gBand),
    fitLine(6, gFit),
    // (h)
    {
      type: "line",
      xAxisIndex: 7,
      yAxisIndex: 7,
      data: falseDensity,
      smooth: 0.3,
      symbol: "none",
      lineStyle: { color: "#000", width: 1 },
      areaStyle: { color: "#c9c9c9", opacity: 1 },
      silent: true,
    },
    {
      type: "line",
      xAxisIndex: 7,
      yAxisIndex: 7,
      data: trueDensity,
      smooth: 0.3,
      symbol: "none",
      lineStyle: { color: "#000", width: 1 },
      areaStyle: { color: "rgba(245,115,100,0.66)", opacity: 1 },
      silent: true,
    },
  ];

  return {
    animation: false,
    backgroundColor: "#ffffff",
    textStyle: { fontFamily: FONT },
    grid: grids.map((g, i) => ({
      ...g,
      containLabel: false,
      show: i > 0,
      borderColor: "#000",
      borderWidth: 1.6,
      backgroundColor: "transparent",
    })),
    xAxis,
    yAxis,
    series,
    graphic: { elements: graphics },
  };
}

export default function App() {
  const ref = useRef<HTMLDivElement>(null);
  useEffect(() => {
    if (!ref.current) return;
    const chart = echarts.init(ref.current, null, { renderer: "svg" });
    chart.setOption(buildOption() as any);
    return () => chart.dispose();
  }, []);
  return (
    <div
      ref={ref}
      style={{ position: "fixed", left: 0, top: 0, width: "1356px", height: "735px", background: "#fff" }}
    />
  );
}
